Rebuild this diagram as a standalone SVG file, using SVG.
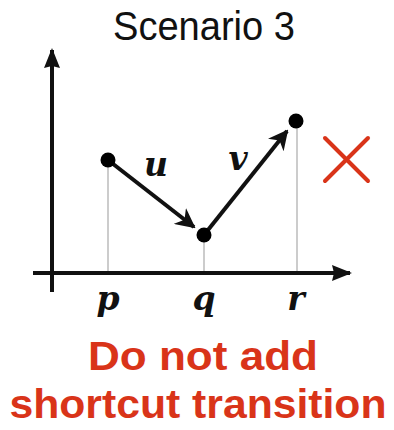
<svg xmlns="http://www.w3.org/2000/svg" width="394" height="430" viewBox="0 0 394 430">
<style>
.axis{stroke:#111;stroke-width:4;fill:none}
.guide{stroke:#cccccc;stroke-width:2}
.edge{stroke:#111;stroke-width:4;fill:none}
.pt{fill:#000}
.math{font-family:"DejaVu Serif","Liberation Serif",serif;font-weight:bold;font-style:italic;font-size:33px;fill:#111;text-anchor:middle}
.title{font-family:"Liberation Sans","DejaVu Sans",sans-serif;font-size:40px;fill:#111;text-anchor:middle}
.warn{font-family:"Liberation Sans","DejaVu Sans",sans-serif;font-weight:bold;font-size:40px;fill:#d93419;text-anchor:middle}
</style>
<defs>
<marker id="ah" viewBox="0 0 10 10" refX="9" refY="5" markerWidth="5" markerHeight="5" orient="auto" markerUnits="strokeWidth">
<path d="M0,0 L10,5 L0,10 L3,5 Z" fill="#111"/>
</marker>
<marker id="axh" viewBox="0 0 10 8" refX="9" refY="4" markerWidth="5" markerHeight="4" orient="auto" markerUnits="strokeWidth">
<path d="M0,0 L10,4 L0,8 L1,4 Z" fill="#111"/>
</marker>
</defs>
<text class="title" x="204" y="40" textLength="182" lengthAdjust="spacingAndGlyphs">Scenario 3</text>
<g id="axes">
<line class="axis" x1="52" y1="292" x2="52" y2="50" marker-end="url(#axh)"/>
<line class="axis" x1="33" y1="273" x2="350" y2="273" marker-end="url(#axh)"/>
</g>
<g id="guides">
<line class="guide" x1="108" y1="160" x2="108" y2="271"/>
<line class="guide" x1="204" y1="235" x2="204" y2="271"/>
<line class="guide" x1="297" y1="121" x2="297" y2="271"/>
</g>
<g id="connectors">
<line class="edge" x1="108" y1="160" x2="194" y2="227" marker-end="url(#ah)"/>
<line class="edge" x1="204" y1="235" x2="287" y2="131" marker-end="url(#ah)"/>
</g>
<g id="node-p"><circle class="pt" cx="108" cy="160" r="7.5"/><text class="math" x="108" y="310">p</text></g>
<g id="node-q"><circle class="pt" cx="204" cy="235" r="7.5"/><text class="math" x="204" y="310">q</text></g>
<g id="node-r"><circle class="pt" cx="296" cy="121" r="7.5"/><text class="math" x="296" y="310">r</text></g>
<text class="math" x="156" y="176">u</text>
<text class="math" x="238" y="170">v</text>
<g id="cross" stroke="#d93419" stroke-width="4" stroke-linecap="round">
<line x1="325" y1="138" x2="368" y2="181"/>
<line x1="368" y1="138" x2="325" y2="181"/>
</g>
<text class="warn" x="203" y="370" textLength="230" lengthAdjust="spacingAndGlyphs">Do not add</text>
<text class="warn" x="198" y="418" textLength="377" lengthAdjust="spacingAndGlyphs">shortcut transition</text>
</svg>
